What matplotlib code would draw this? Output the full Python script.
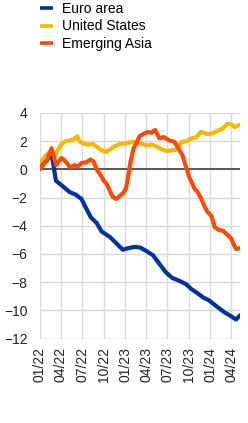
import matplotlib
matplotlib.use("Agg")
import matplotlib.pyplot as plt
import matplotlib.dates as mdates
from matplotlib.lines import Line2D
import pandas as pd

plt.rcParams['font.family'] = ['Liberation Sans', 'DejaVu Sans']

# series (date, value)
euro_dates = ["2022-01-01", "2022-01-29", "2022-02-20", "2022-02-25", "2022-03-10", "2022-03-25",
              "2022-04-16", "2022-05-07", "2022-06-04", "2022-06-28", "2022-07-16", "2022-08-07",
              "2022-09-01", "2022-09-22", "2022-10-10", "2022-10-28", "2022-11-25", "2022-12-22",
              "2023-01-13", "2023-02-12", "2023-03-07", "2023-04-03", "2023-05-01", "2023-05-28",
              "2023-06-25", "2023-07-22", "2023-08-21", "2023-09-20", "2023-10-13", "2023-11-09",
              "2023-12-03", "2023-12-28", "2024-01-19", "2024-02-12", "2024-03-03", "2024-03-24",
              "2024-04-21", "2024-05-06"]
euro_area = [0.1, 0.6, 1.1, 0.6, -0.8, -1.0,
             -1.3, -1.6, -1.8, -2.1, -2.7, -3.4,
             -3.8, -4.4, -4.6, -4.8, -5.25, -5.7,
             -5.6, -5.5, -5.55, -5.8, -6.1, -6.7,
             -7.3, -7.7, -7.9, -8.15, -8.5, -8.8,
             -9.1, -9.3, -9.6, -9.9, -10.15, -10.35,
             -10.65, -10.4]

us_dates = ["2022-01-01", "2022-01-21", "2022-02-13", "2022-03-04", "2022-03-16", "2022-04-01",
            "2022-04-21", "2022-05-07", "2022-05-24", "2022-06-09", "2022-06-19", "2022-07-03",
            "2022-07-24", "2022-08-15", "2022-09-01", "2022-09-18", "2022-10-12", "2022-10-27",
            "2022-11-13", "2022-12-09", "2023-01-04", "2023-02-03", "2023-02-24", "2023-03-16",
            "2023-04-06", "2023-04-28", "2023-05-19", "2023-06-10", "2023-06-27", "2023-07-18",
            "2023-08-09", "2023-09-01", "2023-09-21", "2023-10-12", "2023-10-31", "2023-11-22",
            "2023-12-12", "2023-12-28", "2024-01-16", "2024-02-04", "2024-02-24", "2024-03-16",
            "2024-04-01", "2024-04-16", "2024-05-06"]
united_states = [0.4, 0.9, 1.25, 0.9, 1.3, 1.75,
                 2.0, 2.05, 2.1, 2.35, 2.0, 1.85,
                 1.75, 1.8, 1.6, 1.4, 1.23, 1.4,
                 1.6, 1.8, 1.85, 1.95, 1.85, 1.8,
                 1.7, 1.75, 1.6, 1.4, 1.3, 1.35,
                 1.4, 1.95, 2.0, 2.2, 2.25, 2.65,
                 2.55, 2.5, 2.6, 2.75, 2.9, 3.25,
                 3.2, 3.0, 3.15]

asia_dates = ["2022-01-01", "2022-01-29", "2022-02-20", "2022-03-01", "2022-03-11", "2022-03-21",
              "2022-04-02", "2022-04-12", "2022-04-24", "2022-05-07", "2022-05-16", "2022-05-28",
              "2022-06-12", "2022-06-28", "2022-07-18", "2022-08-06", "2022-08-19", "2022-09-01",
              "2022-09-18", "2022-10-01", "2022-10-13", "2022-10-27", "2022-11-09", "2022-11-25",
              "2022-12-08", "2022-12-22", "2023-01-04", "2023-01-13", "2023-01-25", "2023-02-07",
              "2023-02-21", "2023-03-04", "2023-03-19", "2023-04-08", "2023-04-24", "2023-05-10",
              "2023-05-28", "2023-06-15", "2023-07-10", "2023-08-01", "2023-08-21", "2023-09-04",
              "2023-09-13", "2023-09-25", "2023-10-03", "2023-10-16", "2023-10-25", "2023-11-08",
              "2023-11-24", "2023-12-07", "2023-12-20", "2024-01-06", "2024-01-14", "2024-01-20",
              "2024-02-07", "2024-02-25", "2024-03-15", "2024-03-31", "2024-04-10", "2024-04-22",
              "2024-05-06"]
emerging_asia = [0.05, 0.6, 1.5, 0.9, 0.3, 0.55,
                 0.8, 0.7, 0.5, 0.2, 0.15, 0.3,
                 0.2, 0.45, 0.5, 0.7, 0.55, 0.0,
                 -0.4, -0.8, -1.0, -1.5, -1.95, -2.1,
                 -1.9, -1.7, -1.4, -0.6, 0.6, 1.5,
                 1.95, 2.35, 2.5, 2.65, 2.6, 2.8,
                 2.2, 2.3, 2.05, 1.95, 1.4, 1.0,
                 0.5, -0.1, -0.55, -1.0, -1.35, -1.6,
                 -2.1, -2.6, -3.0, -3.3, -3.7, -4.1,
                 -4.3, -4.35, -4.65, -4.9, -5.3, -5.65,
                 -5.6]

labels = ["Euro area", "United States", "Emerging Asia"]
colors = ["#003299", "#ffb400", "#ff4b00"]

fig = plt.figure(figsize=(2.48, 4.23), dpi=100)
ax = fig.add_axes([40 / 248, 1 - 338.5 / 423, 200 / 248, (338.5 - 113) / 423])

ax.plot(pd.to_datetime(us_dates), united_states, color=colors[1], lw=3, zorder=3)
ax.plot(pd.to_datetime(euro_dates), euro_area, color=colors[0], lw=3, zorder=4)
ax.plot(pd.to_datetime(asia_dates), emerging_asia, color=colors[2], lw=3, zorder=5)
ax.axhline(0, color="#4d4d4d", lw=1.3, zorder=2)

ax.set_xlim(pd.Timestamp("2022-01-01"), pd.Timestamp("2024-05-08"))
ax.set_ylim(-12, 4)
ax.set_yticks(range(-12, 5, 2))
ax.xaxis.set_major_locator(mdates.MonthLocator(bymonth=[1, 4, 7, 10]))
ax.xaxis.set_major_formatter(mdates.DateFormatter("%m/%y"))
ax.tick_params(axis="x", labelrotation=90, length=0, pad=6, labelsize=10, colors="#222222")
ax.tick_params(axis="y", length=0, pad=9, labelsize=10, colors="#222222")
ax.grid(True, color="#d9d9d9", lw=1)
ax.set_axisbelow(True)
for s in ax.spines.values():
    s.set_visible(False)

handles = [Line2D([0], [0], color=c, lw=2.6, solid_capstyle="butt") for c in colors]
fig.legend(handles, labels, loc="upper left", bbox_to_anchor=(40 / 248, 1 - 2 / 423),
           frameon=False, fontsize=10, handlelength=0.92, handletextpad=0.67,
           labelspacing=0.25, borderaxespad=0.0, borderpad=0.0)

fig.savefig("out.png", dpi=100)
